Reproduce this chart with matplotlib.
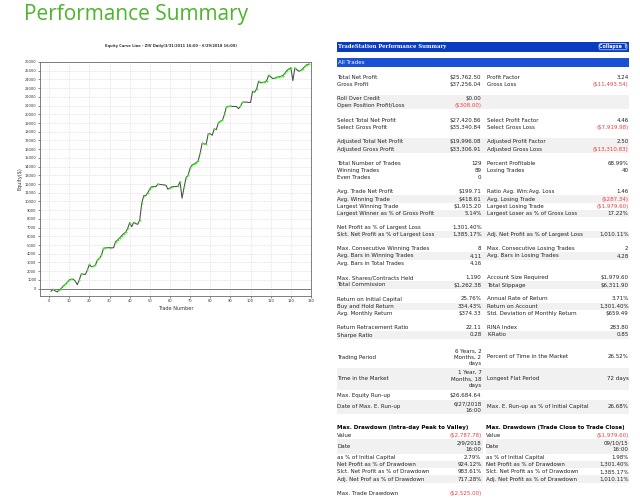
import matplotlib
matplotlib.use('Agg')
import matplotlib.pyplot as plt
from matplotlib.patches import Rectangle, FancyBboxPatch
import numpy as np

# ── Equity curve (closed-trade equity, $) ─────────────────────────────────────
TRADES = list(range(1, 130))
EQUITY = [
    -300, -100, -250, -380, -150, 0, 300, 470, 700, 1000,
    1080, 1080, 850, 450, 1000, 1700, 1650, 1620, 2120, 2770,
    2500, 2550, 2700, 3270, 3460, 3840, 4610, 4680, 4680, 4700,
    4680, 4680, 5380, 5570, 5800, 6060, 6300, 6450, 6910, 7560,
    7100, 7600, 7450, 7380, 7870, 9790, 10670, 10670, 11000, 11440,
    11700, 11700, 11700, 12000, 11950, 11930, 11900, 11850, 11400, 11550,
    11700, 11700, 11700, 11750, 12280, 10370, 11600, 12740, 13000, 13820,
    14200, 14300, 14450, 14660, 15550, 16700, 16580, 16600, 17770, 17750,
    17600, 18340, 18230, 19000, 19200, 19300, 19950, 20840, 20900, 20950,
    20900, 20900, 20900, 20650, 20900, 21400, 21400, 21400, 21360, 21360,
    22640, 22530, 22900, 23800, 23600, 23650, 23700, 23860, 24480, 24300,
    24100, 24150, 24250, 24300, 24350, 24440, 24700, 25020, 25200, 25330,
    23860, 25330, 25100, 24940, 25050, 25250, 25500, 25700, 25762.5,
]
X_TICKS = list(range(0, 131, 10))
Y_TICKS = list(range(0, 26001, 1000))

# ── Performance table ────────────────────────────────────────────────────────
LEFT_LABELS = [
    'Total Net Profit', 'Gross Profit',
    'Roll Over Credit', 'Open Position Profit/Loss',
    'Select Total Net Profit', 'Select Gross Profit',
    'Adjusted Total Net Profit', 'Adjusted Gross Profit',
    'Total Number of Trades', 'Winning Trades', 'Even Trades',
    'Avg. Trade Net Profit', 'Avg. Winning Trade', 'Largest Winning Trade',
    'Largest Winner as % of Gross Profit',
    'Net Profit as % of Largest Loss', 'Slct. Net Profit as % of Largest Loss',
    'Max. Consecutive Winning Trades', 'Avg. Bars in Winning Trades', 'Avg. Bars in Total Trades',
    'Max. Shares/Contracts Held', 'Total Commission',
    'Return on Initial Capital', 'Buy and Hold Return', 'Avg. Monthly Return',
    'Return Retracement Ratio', 'Sharpe Ratio',
    'Trading Period', 'Time in the Market',
    'Max. Equity Run-up', 'Date of Max. E. Run-up',
]
LEFT_VALUES = [
    '$25,762.50', '$37,256.04',
    '$0.00', '($308.00)',
    '$27,420.86', '$35,340.84',
    '$19,996.08', '$33,306.91',
    '129', '89', '0',
    '$199.71', '$418.61', '$1,915.20', '5.14%',
    '1,301.40%', '1,385.17%',
    '8', '4.11', '4.16',
    '1,190', '$1,262.38',
    '25.76%', '334.43%', '$374.33',
    '22.11', '0.28',
    '6 Years, 2\nMonths, 2\ndays', '1 Year, 7\nMonths, 18\ndays',
    '$26,684.64', '6/27/2018\n16:00',
]
RIGHT_LABELS = [
    'Profit Factor', 'Gross Loss',
    '', '',
    'Select Profit Factor', 'Select Gross Loss',
    'Adjusted Profit Factor', 'Adjusted Gross Loss',
    'Percent Profitable', 'Losing Trades', '',
    'Ratio Avg. Win:Avg. Loss', 'Avg. Losing Trade', 'Largest Losing Trade',
    'Largest Loser as % of Gross Loss',
    '', 'Adj. Net Profit as % of Largest Loss',
    'Max. Consecutive Losing Trades', 'Avg. Bars in Losing Trades', '',
    'Account Size Required', 'Total Slippage',
    'Annual Rate of Return', 'Return on Account', 'Std. Deviation of Monthly Return',
    'RINA Index', 'K-Ratio',
    'Percent of Time in the Market', 'Longest Flat Period',
    '', 'Max. E. Run-up as % of Initial Capital',
]
RIGHT_VALUES = [
    '3.24', '($11,493.54)',
    '', '',
    '4.46', '($7,919.98)',
    '2.50', '($13,310.83)',
    '68.99%', '40', '',
    '1.46', '($287.34)', '($1,979.60)', '17.22%',
    '', '1,010.11%',
    '2', '4.28', '',
    '$1,979.60', '$6,311.90',
    '3.71%', '1,301.40%', '$659.49',
    '283.80', '0.85',
    '26.52%', '72 days',
    '', '26.68%',
]
GROUP_SIZES = [2, 2, 2, 2, 3, 4, 2, 3, 2, 3, 2, 2, 2]

DD_LEFT_TITLE = 'Max. Drawdown (Intra-day Peak to Valley)'
DD_RIGHT_TITLE = 'Max. Drawdown (Trade Close to Trade Close)'
DD_LEFT_LABELS = ['Value', 'Date', 'as % of Initial Capital', 'Net Profit as % of Drawdown',
                  'Slct. Net Profit as % of Drawdown', 'Adj. Net Prof as % of Drawdown']
DD_LEFT_VALUES = ['($2,787.78)', '2/9/2018\n16:00', '2.79%', '924.12%', '983.61%', '717.28%']
DD_RIGHT_LABELS = ['Value', 'Date', 'as % of Initial Capital', 'Net Profit as % of Drawdown',
                   'Slct. Net Profit as % of Drawdown', 'Adj. Net Profit as % of Drawdown']
DD_RIGHT_VALUES = ['($1,979.60)', '09/10/15\n16:00', '1.98%', '1,301.40%', '1,385.17%', '1,010.11%']
MAX_TRADE_DD = ('Max. Trade Drawdown', '($2,525.00)')

# ── Styling / layout (pixels on a 640x501 canvas) ────────────────────────────
W, H = 640, 501
GREEN_TITLE = '#4cb52a'
BAR_DARK = '#0a3cc0'
BAR_MID = '#1a50d4'
STRIPE = '#f1f1f1'
RED = '#f23c3c'
TXT = '#222222'
FS = 4.0
LINE = 7.3

GROUP_Y = [77.3, 98.3, 120.0, 141.7, 163.3, 191.7, 227.3, 248.7,
           277.7, 299.0, 327.7, 349.7, 396.0]
SHADED_ROWS = {2, 3, 6, 7, 12, 14, 16, 18, 21, 23, 26, 28, 30}
X_L1, X_V1, X_L2, X_V2 = 337, 481.5, 487, 628.5

fig = plt.figure(figsize=(W / 100, H / 100), dpi=100, facecolor='white')

# ── Equity chart ─────────────────────────────────────────────────────────────
ax = fig.add_axes([40 / W, 1 - 296 / H, 271 / W, 234 / H])
ax.plot(TRADES, EQUITY, color='#4a4a4a', lw=0.75, zorder=3)
# green dots on the winning trades (equity up from the previous trade)
eq = np.array(EQUITY)
win = np.r_[eq[0] > 0, np.diff(eq) > 0]
ax.plot(np.array(TRADES)[win], eq[win], ls='none', marker='o',
        ms=1.4, mfc='#3dff1a', mec='none', zorder=4)
ax.axhline(0, color='#7a7a7a', lw=0.7, zorder=2)
ax.set_xlim(-4.5, 130)
ax.set_ylim(-850, 26000)
ax.set_xticks(X_TICKS)
ax.set_yticks(Y_TICKS)
ax.tick_params(labelsize=2.6, length=1.5, width=0.4, pad=1, colors='#333333')
ax.grid(True, ls=(0, (1, 2)), color='#b8b8b8', lw=0.4)
for s in ax.spines.values():
    s.set_color('#6a6a6a')
    s.set_linewidth(0.6)
ax.set_xlabel('Trade Number', fontsize=3.6, labelpad=1.5, color='#333333')
ax.set_ylabel('Equity($)', fontsize=3.6, labelpad=1.5, color='#333333')

# ── Overlay in pixel coordinates ─────────────────────────────────────────────
ov = fig.add_axes([0, 0, 1, 1], facecolor='none')
ov.set_xlim(0, W)
ov.set_ylim(H, 0)
ov.axis('off')

ov.text(24, 20, 'Performance Summary', fontsize=15, color=GREEN_TITLE,
        family='Open Sans', va='baseline', ha='left')
ov.text(171, 45.5, 'Equity Curve Line - ZIV Daily(3/31/2011 16:00 - 6/29/2018 16:00)',
        fontsize=2.6, fontweight='bold', ha='center', va='center', color='#333333')

# header bars
ov.add_patch(Rectangle((337, 42), 292, 9.5, color=BAR_DARK, lw=0))
ov.text(338.5, 46.8, 'TradeStation Performance Summary', fontsize=3.8, fontweight='bold',
        color='white', va='center', family='DejaVu Serif')
ov.add_patch(FancyBboxPatch((599, 43.5), 28, 6.3, boxstyle='round,pad=0,rounding_size=2',
                            fc=BAR_DARK, ec='#c8d4ff', lw=0.5))
ov.text(613, 46.8, 'Collapse \u21d1', fontsize=3.4, fontweight='bold', color='white',
        ha='center', va='center')
ov.add_patch(Rectangle((337, 58), 292, 8.5, color=BAR_MID, lw=0))
ov.text(338.5, 62.3, 'All Trades', fontsize=FS, color='white', va='center')


def put_value(x, y, s, ha='right'):
    ov.text(x, y, s, fontsize=FS, ha=ha, va='center', color=RED if s.startswith('(') else TXT,
            linespacing=1.3, multialignment='right')


row = 0
for g, size in enumerate(GROUP_SIZES):
    y = GROUP_Y[g]
    for _ in range(size):
        n = LEFT_VALUES[row].count('\n') + 1
        mid = y + (n - 1) * LINE / 2
        if row in SHADED_ROWS:
            ov.add_patch(Rectangle((337, y - LINE / 2), 292, n * LINE, color=STRIPE, lw=0, zorder=0))
        ov.text(X_L1, mid, LEFT_LABELS[row], fontsize=FS, va='center', color=TXT)
        put_value(X_V1, mid, LEFT_VALUES[row])
        if RIGHT_LABELS[row]:
            ov.text(X_L2, mid, RIGHT_LABELS[row], fontsize=FS, va='center', color=TXT)
        if RIGHT_VALUES[row]:
            put_value(X_V2, mid, RIGHT_VALUES[row])
        y += n * LINE
        row += 1

# drawdown tables
ov.text(X_L1, 427.3, DD_LEFT_TITLE, fontsize=FS, fontweight='bold', va='center', color='black')
ov.text(486, 427.3, DD_RIGHT_TITLE, fontsize=FS, fontweight='bold', va='center', color='black')
y = 435.3
for i in range(len(DD_LEFT_LABELS)):
    n = DD_LEFT_VALUES[i].count('\n') + 1
    mid = y + (n - 1) * LINE / 2
    if i % 2 == 1:
        ov.add_patch(Rectangle((337, y - LINE / 2), 146, n * LINE, color=STRIPE, lw=0, zorder=0))
        ov.add_patch(Rectangle((486, y - LINE / 2), 143, n * LINE, color=STRIPE, lw=0, zorder=0))
    ov.text(X_L1, mid, DD_LEFT_LABELS[i], fontsize=FS, va='center', color=TXT)
    put_value(X_V1, mid, DD_LEFT_VALUES[i])
    ov.text(486, mid, DD_RIGHT_LABELS[i], fontsize=FS, va='center', color=TXT)
    put_value(X_V2, mid, DD_RIGHT_VALUES[i])
    y += n * LINE

ov.text(X_L1, 493.3, MAX_TRADE_DD[0], fontsize=FS, va='center', color=TXT)
put_value(X_V1, 493.3, MAX_TRADE_DD[1])

fig.savefig('out.png', dpi=100, facecolor='white')
